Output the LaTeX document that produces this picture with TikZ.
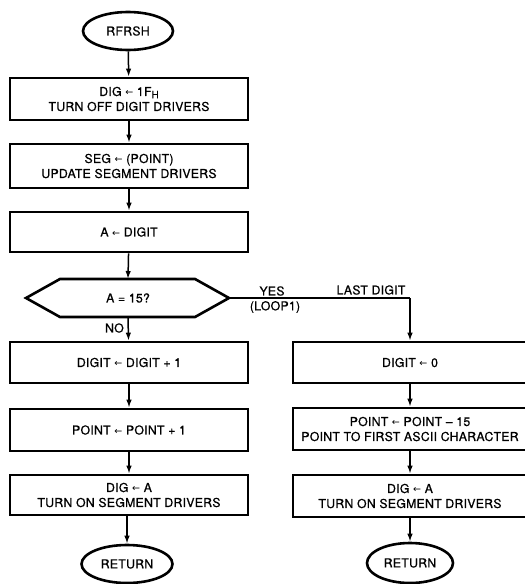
\documentclass[tikz,border=0pt]{standalone}
\usepackage{fontspec}
\setmainfont{TeX Gyre Heros}[FakeBold=0.6,LetterSpace=2]
\newfontfamily\symf{DejaVu Sans}
\usetikzlibrary{arrows.meta,shapes.geometric}
\newcommand\larr{{\symf\fontsize{9.5}{9.5}\selectfont ←}}
\newcommand\subH{\raisebox{-0.35ex}{\fontsize{10}{10}\selectfont H}}
\begin{document}
\begin{tikzpicture}[x=1pt,y=-1pt,
  box/.style={draw, line width=2.6pt, minimum width=238pt, minimum height=42pt,
    align=center, inner sep=0pt, font=\fontsize{12.3}{15}\selectfont},
  rbox/.style={box, minimum width=234pt},
  term/.style={draw, ellipse, line width=2.6pt, minimum width=90pt, minimum height=38pt,
    inner sep=0pt, font=\fontsize{12.3}{14}\selectfont},
  conn/.style={line width=1.5pt, -{Latex[length=8pt,width=5.5pt]}},
  plain/.style={line width=1.5pt},
  lbl/.style={font=\fontsize{12.3}{14}\selectfont, inner sep=0pt}]
\useasboundingbox (0,0) rectangle (525,584);
\fill[white] (0,0) rectangle (525,584);

% left column
\node[term] (start) at (128,31) {RFRSH};
\node[box] (b1) at (129,99) {DIG \larr\ 1F\subH\\TURN OFF DIGIT DRIVERS};
\node[box, minimum height=44pt] (b2) at (129,166) {SEG \larr\ (POINT)\\UPDATE SEGMENT DRIVERS};
\node[box, minimum height=40pt] (b3) at (129,232) {A \larr\ DIGIT};

\node[lbl] (dec) at (128,298) {A = 15?};
\draw[line width=2.6pt, line join=miter] (26,298) -- (60,279) -- (195,279) -- (229,298) -- (195,317) -- (60,317) -- cycle;
\coordinate (decT) at (128,279);
\coordinate (decB) at (128,317);
\coordinate (decR) at (229,298);

\node[box, minimum height=41pt] (b4) at (129,362.5) {DIGIT \larr\ DIGIT + 1};
\node[box] (b5) at (129,430) {POINT \larr\ POINT + 1};
\node[box, minimum height=40pt] (b6) at (129,495) {DIG \larr\ A\\TURN ON SEGMENT DRIVERS};
\node[term, minimum width=91pt] (ret1) at (127,564) {RETURN};

% right column
\node[rbox, minimum height=41pt] (rb1) at (410,362.5) {DIGIT \larr\ 0};
\node[rbox] (rb2) at (410,429) {POINT \larr\ POINT -- 15\\POINT TO FIRST ASCII CHARACTER};
\node[rbox] (rb3) at (410,496) {DIG \larr\ A\\TURN ON SEGMENT DRIVERS};
\node[term, minimum width=86pt, minimum height=40pt] (ret2) at (410,563) {RETURN};

% connectors
\draw[conn] (start) -- (b1);
\draw[conn] (b1) -- (b2);
\draw[conn] (b2) -- (b3);
\draw[conn] (b3) -- (decT);
\draw[conn] (decB) -- (b4);
\draw[conn] (b4) -- (b5);
\draw[conn] (b5) -- (b6);
\draw[conn] (b6.south -| ret1) -- (ret1);

\coordinate (turn) at (410,298);
\draw[plain] (decR) -- (turn);
\draw[conn] (turn) -- (rb1);
\draw[conn] (rb1) -- (rb2);
\draw[conn] (rb2) -- (rb3);
\draw[conn] (rb3) -- (ret2);

% labels
\node[lbl, anchor=east] (no) at (124,328) {NO};
\node[lbl] (yes) at (272,291) {YES};
\node[lbl] (loop) at (275,307) {(LOOP1)};
\node[lbl] (last) at (371,290) {LAST DIGIT};
\end{tikzpicture}
\end{document}
